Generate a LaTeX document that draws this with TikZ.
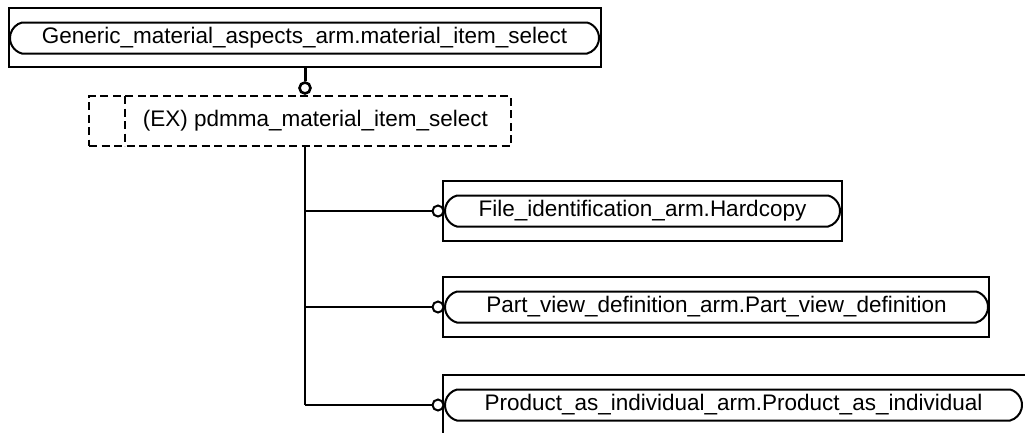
\documentclass[tikz,border=0pt]{standalone}
\usepackage{fontspec}
\setmainfont{Liberation Sans}
\usetikzlibrary{shapes.misc}

\begin{document}
\begin{tikzpicture}[
						x=1pt, y=-1pt,
						line width=2pt,
						every node/.style = {font=\fontsize{22.5}{26}\selectfont},
						outer/.style = {draw, rectangle, inner sep=0pt, minimum height=60pt},
						ent/.style = {draw, rounded rectangle, rounded rectangle arc length=150, inner sep=0pt, minimum height=31pt},
						exbox/.style = {draw, dashed, dash pattern=on 8pt off 4.5pt, rectangle, inner sep=0pt},
						ring/.style = {draw, circle, fill=white, inner sep=0pt, minimum size=11pt}
					]
					\useasboundingbox (0,0) rectangle (1025,432);
					\clip (0,0) rectangle (1025,432);
					% top entity
					\node[outer, minimum width=592pt, minimum height=59pt] (gbox) at (305,37.5) {};
					\node[ent, minimum width=589pt] (g) at (304.5,38) {Generic\_material\_aspects\_arm.material\_item\_select};
					% extensible select
					\node[exbox, minimum width=422pt, minimum height=50pt] (ex) at (300,121) {};
					\node (extxt) at (315.5,121) {(EX) pdmma\_material\_item\_select};
					\draw[dashed, dash pattern=on 8pt off 4.5pt] (125,96) -- (125,146);
					% branch entities
					\node[outer, minimum width=399pt] (fbox) at (642.5,211) {};
					\node[ent, minimum width=395pt] (f) at (642.5,211) {File\_identification\_arm.Hardcopy};
					\node[outer, minimum width=546pt] (pbox) at (716,307) {};
					\node[ent, minimum width=543pt] (p) at (716.5,307) {Part\_view\_definition\_arm.Part\_view\_definition};
					\node[outer, minimum width=597pt] (ibox) at (741.5,405) {};
					\node[ent, minimum width=577pt] (i) at (733.5,405) {Product\_as\_individual\_arm.Product\_as\_individual};
					% connectors
					\node[ring, line width=2.6pt] (rt) at (305,88) {};
					\draw[line width=3pt] (rt |- gbox.south) -- (rt);
					\coordinate (j) at (305,146);
					\coordinate (jf) at (j |- f);
					\coordinate (jp) at (j |- p);
					\coordinate (ji) at (j |- i);
					\node[ring] (rf) at (438,211) {};
					\node[ring] (rp) at (438,307) {};
					\node[ring] (ri) at (438,405) {};
					\draw (j) -- (ji);
					\draw (jf) -- (rf);
					\draw (jp) -- (rp);
					\draw (ji) -- (ri);
				\end{tikzpicture}
\end{document}
